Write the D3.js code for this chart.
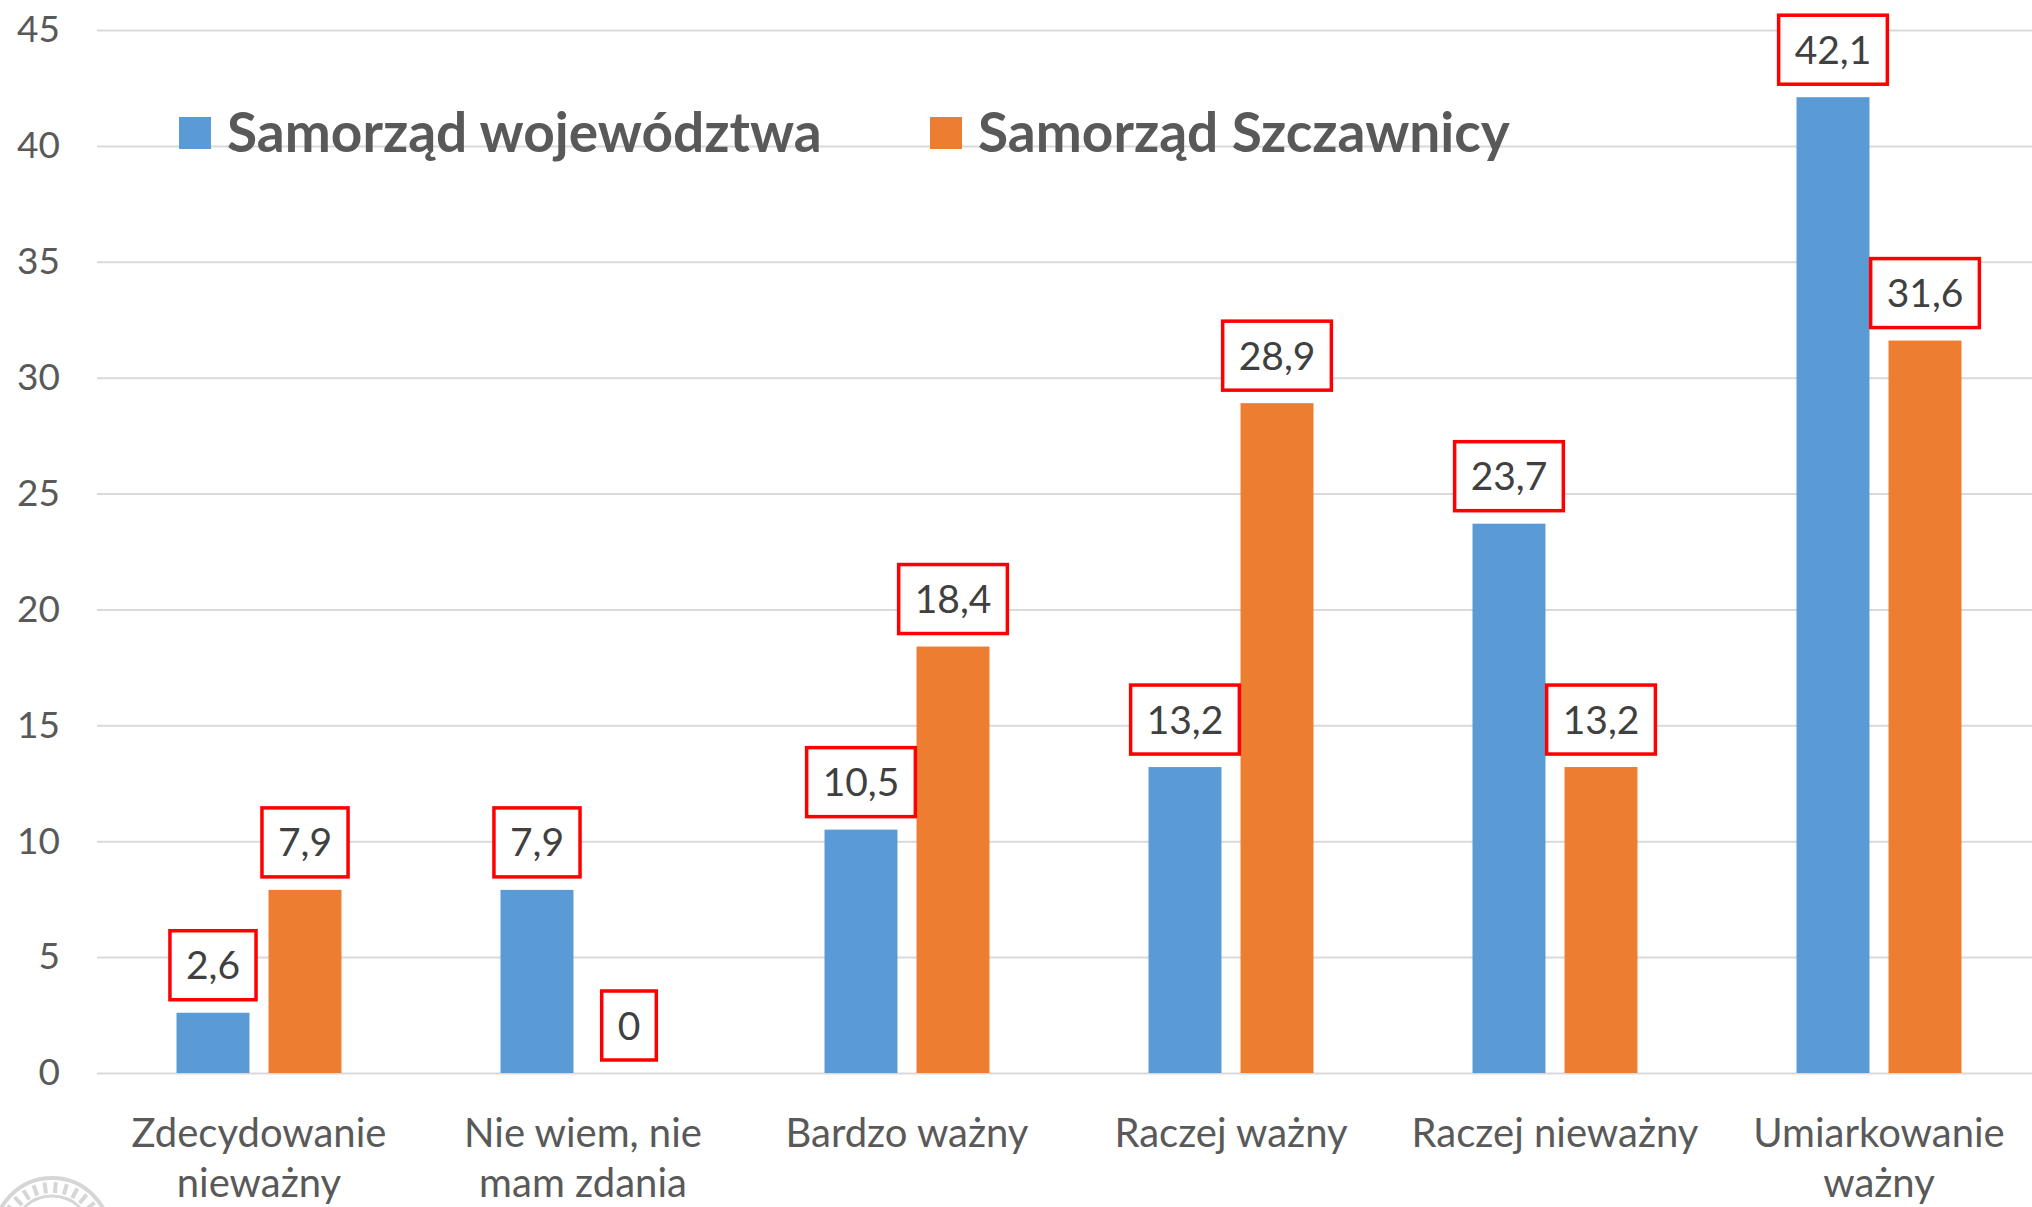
<!DOCTYPE html>
<html>
<head>
<meta charset="utf-8">
<script src="https://cdn.jsdelivr.net/npm/d3@7"></script>
<style>
  html, body { margin: 0; padding: 0; background: #fff; }
  svg { display: block; font-family: Lato, "Open Sans", sans-serif; }
</style>
</head>
<body>
<svg id="chart"></svg>
<script>
const categories = [
  ["Zdecydowanie", "nieważny"],
  ["Nie wiem, nie", "mam zdania"],
  ["Bardzo ważny"],
  ["Raczej ważny"],
  ["Raczej nieważny"],
  ["Umiarkowanie", "ważny"]
];
const seriesNames = ["Samorząd województwa", "Samorząd Szczawnicy"];
const wojewodztwa = [2.6, 7.9, 10.5, 13.2, 23.7, 42.1];
const szczawnicy = [7.9, 0, 18.4, 28.9, 13.2, 31.6];
const yTicks = [0, 5, 10, 15, 20, 25, 30, 35, 40, 45];

const W = 2032, H = 1207;
const left = 97, bandW = 324;
const colors = ["#5b9bd5", "#ed7d31"];

const svg = d3.select("#chart").attr("width", W).attr("height", H);

const y = d3.scaleLinear().domain([0, 45]).range([1073, 30]);
const x0 = d3.scaleBand().domain(d3.range(categories.length))
  .range([left, left + bandW * categories.length]).padding(0);
const x1 = d3.scaleBand().domain([0, 1]).range([79.5, 244.5]).paddingInner(0.207);

// faint stamp in the corner
const stamp = svg.append("g").attr("transform", "translate(52,1236)")
  .attr("stroke", "#d6d6d6").attr("fill", "none");
stamp.append("circle").attr("r", 58).attr("stroke-width", 4);
stamp.append("circle").attr("r", 40).attr("stroke-width", 3);
d3.range(-80, 81, 12).forEach(a => {
  const r = (a - 90) * Math.PI / 180;
  stamp.append("line")
    .attr("x1", 43 * Math.cos(r)).attr("y1", 43 * Math.sin(r))
    .attr("x2", 54 * Math.cos(r)).attr("y2", 54 * Math.sin(r))
    .attr("stroke-width", 4);
});

// axis + gridlines
const yAxis = svg.append("g").attr("transform", `translate(${left},0)`)
  .call(d3.axisLeft(y).tickValues(yTicks).tickSize(-(W - left)).tickPadding(37));
yAxis.select(".domain").remove();
yAxis.selectAll(".tick line").attr("stroke", "#d9d9d9").attr("stroke-width", 2);
yAxis.selectAll(".tick text")
  .attr("fill", "#595959").style("font-size", "37px").style("font-family", "Lato, sans-serif");

const series = [wojewodztwa, szczawnicy];
const rows = series.flatMap((vals, s) => vals.map((v, i) => ({ s, i, v })));

svg.append("g").selectAll("rect").data(rows).join("rect")
  .attr("x", d => x0(d.i) + x1(d.s))
  .attr("width", x1.bandwidth())
  .attr("y", d => y(d.v))
  .attr("height", d => y(0) - y(d.v))
  .attr("fill", d => colors[d.s]);

// data labels in red boxes
const fmt = v => String(v).replace(".", ",");
const lab = svg.append("g").selectAll("g").data(rows).join("g")
  .attr("transform", d => `translate(${x0(d.i) + x1(d.s) + x1.bandwidth() / 2},${y(d.v) - 13 - 34.5})`);
lab.append("rect").attr("fill", "#fff").attr("stroke", "#ff0000").attr("stroke-width", 3.5);
lab.append("text")
  .attr("text-anchor", "middle").attr("dy", "0.36em")
  .attr("fill", "#404040").style("font-size", "39px")
  .text(d => fmt(d.v));
lab.each(function () {
  const t = d3.select(this).select("text").node().getBBox();
  d3.select(this).select("rect")
    .attr("x", -t.width / 2 - 16).attr("width", t.width + 32)
    .attr("y", -34.5).attr("height", 69);
});

// category labels
svg.append("g").selectAll("text").data(categories).join("text")
  .attr("text-anchor", "middle")
  .attr("fill", "#595959").style("font-size", "40px")
  .attr("x", (d, i) => x0(i) + bandW / 2)
  .attr("y", 1147)
  .selectAll("tspan").data(d => d).join("tspan")
  .attr("x", function () { return d3.select(this.parentNode).attr("x"); })
  .attr("dy", (d, j) => j === 0 ? 0 : 50)
  .text(d => d);

// legend
const legendX = [179, 930];
const leg = svg.append("g").selectAll("g").data(seriesNames).join("g")
  .attr("transform", (d, i) => `translate(${legendX[i]},117)`);
leg.append("rect").attr("width", 32).attr("height", 32).attr("fill", (d, i) => colors[i]);
leg.append("text").attr("x", 48).attr("y", 35)
  .attr("fill", "#595959").style("font-size", "55px").style("font-weight", "bold")
  .text(d => d);
</script>
</body>
</html>
